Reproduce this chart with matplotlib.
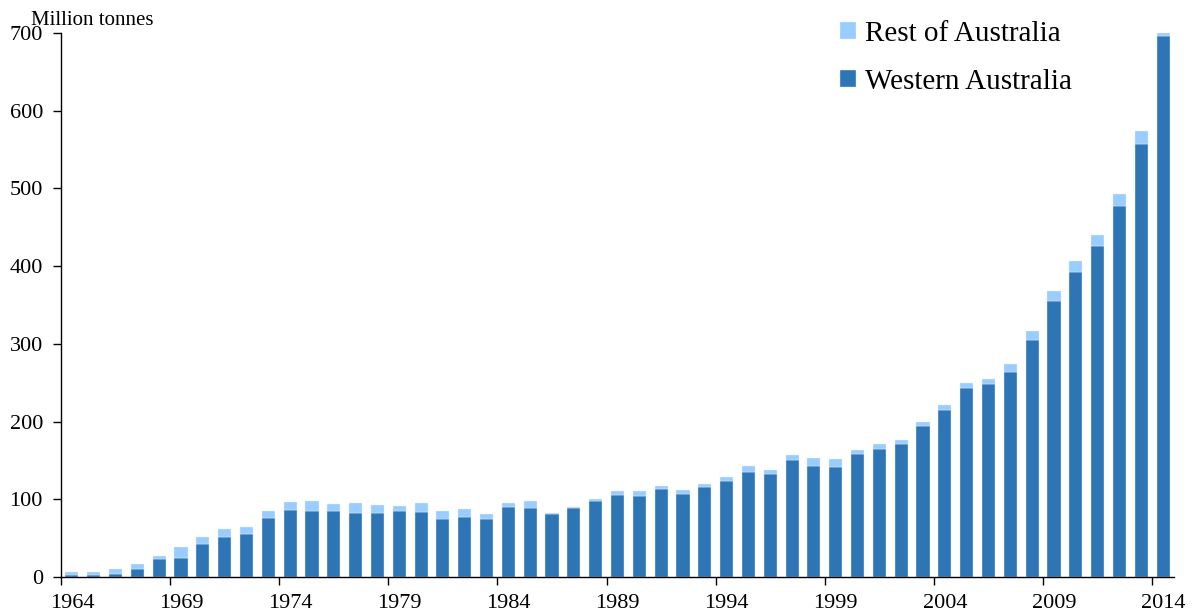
import matplotlib
matplotlib.use("Agg")
from matplotlib import pyplot as plt
import numpy as np

# Iron ore production, million tonnes
years = list(range(1964, 2015))
western_australia = [
    2, 2, 4.3, 9.9, 23, 24.9, 42.9, 51.9, 55.8, 75.5,
    86.7, 85.4, 85.4, 82.8, 82, 85.4, 84.1, 75.1, 77.7, 75.1,
    90.6, 88.8, 81.5, 88.4, 98.3, 105.6, 104.7, 113.7, 107.3, 115.9,
    123.6, 135.6, 133, 151, 143.1, 142.1, 158.8, 164.8, 171.4, 194.1,
    215.2, 243.4, 248.5, 264.1, 305.4, 355.3, 392.6, 426.4, 477.8, 557.5,
    696,
]
rest_of_australia = [
    4, 4.4, 6.4, 6.8, 4, 13.7, 8.6, 9.9, 8.6, 9,
    9.9, 12, 8.2, 12.5, 10.7, 6, 11.2, 9.9, 10.3, 6,
    4.2, 9.1, 0.9, 1.7, 2.1, 5.1, 6.5, 3.5, 4.7, 4.3,
    5.2, 7.3, 4.8, 6.6, 9.6, 9.1, 4.5, 6.1, 4.5, 5.5,
    6.1, 6.6, 6.5, 9.6, 11.1, 12.6, 14.2, 13.6, 15.1, 16.1,
    3.6,
]
yticks = [0, 100, 200, 300, 400, 500, 600, 700]

dark_blue = "#2E75B6"
light_blue = "#99CCFF"

plt.rcParams["font.family"] = ["Liberation Serif", "DejaVu Serif"]

fig = plt.figure(figsize=(11.92, 6.14), dpi=100)
ax = fig.add_axes([61 / 1192, 1 - 577 / 614, 1113 / 1192, 544 / 614])

x = np.arange(len(years))
ax.bar(x, western_australia, width=0.6, color=dark_blue, edgecolor="#dce9f5",
       linewidth=0.3, label="Western Australia")
ax.bar(x, rest_of_australia, width=0.6, bottom=western_australia, color=light_blue,
       edgecolor="#e6f2ff", linewidth=0.3, label="Rest of Australia")

ax.set_xlim(-0.5, len(years) - 0.5)
ax.set_ylim(0, 700)
ax.set_yticks(yticks)
ax.tick_params(axis="y", direction="out", length=6, width=1, pad=7, labelsize=16)

# labels at bar centres, tick marks between categories
label_pos = x[::5]
ax.set_xticks(label_pos)
ax.set_xticklabels([str(years[i]) for i in label_pos])
ax.set_xticks(label_pos - 0.5, minor=True)
ax.tick_params(axis="x", which="major", length=0, pad=12, labelsize=16)
ax.tick_params(axis="x", which="minor", direction="out", length=6, width=1)

for side in ["top", "right"]:
    ax.spines[side].set_visible(False)
for side in ["left", "bottom"]:
    ax.spines[side].set_linewidth(1)

fig.text(31 / 1192, 1 - 25 / 614, "Million tonnes", fontsize=15, ha="left", va="baseline")

handles, labels = ax.get_legend_handles_labels()
ax.legend(handles[::-1], labels[::-1], loc="upper left",
          bbox_to_anchor=(840 / 1192, 1 - 21 / 614), bbox_transform=fig.transFigure,
          frameon=False, fontsize=21, handlelength=0.55, handleheight=0.55,
          handletextpad=0.3, labelspacing=0.75, borderpad=0, borderaxespad=0)

plt.savefig("out.png", dpi=100)
